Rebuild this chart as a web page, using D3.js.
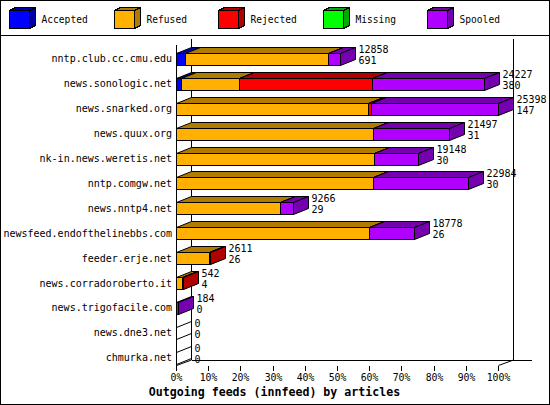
<!DOCTYPE html>
<html>
<head>
<meta charset="utf-8">
<script src="https://cdn.jsdelivr.net/npm/d3@7"></script>
<style>
  body { margin: 0; background: #fff; }
  text { font-family: "DejaVu Sans Mono", monospace; fill: #000; }
</style>
</head>
<body>
<div id="img"></div>
<script>
const hosts = ["nntp.club.cc.cmu.edu", "news.sonologic.net", "news.snarked.org", "news.quux.org",
  "nk-in.news.weretis.net", "nntp.comgw.net", "news.nntp4.net", "newsfeed.endofthelinebbs.com",
  "feeder.erje.net", "news.corradoroberto.it", "news.trigofacile.com", "news.dne3.net", "chmurka.net"];

// percentages of offered articles
const accepted = [2.8, 1.5, 0, 0, 0, 0, 0, 0, 0, 0, 0, 0, 0];
const refused  = [44.4, 18.2, 59.7, 61.3, 61.6, 61.2, 32.3, 60.0, 10.3, 1.8, 0, 0, 0];
const rejected = [0, 41.3, 0.8, 0, 0, 0, 0, 0, 0.2, 0.3, 0, 0, 0];
const missing  = [0, 0, 0, 0, 0, 0, 0, 0, 0, 0, 0, 0, 0];
const spooled  = [3.8, 34.5, 39.4, 23.5, 13.7, 29.4, 4.0, 13.9, 0, 0, 0.6, 0, 0];

const articles = [12858, 24227, 25398, 21497, 19148, 22984, 9266, 18778, 2611, 542, 184, 0, 0];
const volume   = [691, 380, 147, 31, 30, 30, 29, 26, 26, 4, 0, 0, 0];

const seriesNames = ["Accepted", "Refused", "Rejected", "Missing", "Spooled"];
const seriesData = [accepted, refused, rejected, missing, spooled];
const ticks = [0, 10, 20, 30, 40, 50, 60, 70, 80, 90, 100];

const front = ["#0000ff", "#ffb000", "#ff0000", "#00ff00", "#b000ff"];
const dark  = ["#0000a8", "#b07c00", "#b00000", "#00a800", "#7400b0"];

const W = 550, H = 405;
const DX = 15, DY = 6;

const svg = d3.select("#img").append("svg")
    .attr("width", W)
    .attr("height", H)
    .attr("shape-rendering", "crispEdges");

// frame
svg.append("rect").attr("x", 0.5).attr("y", 0.5).attr("width", W - 1).attr("height", H - 1)
    .attr("fill", "#fff").attr("stroke", "#000");
svg.append("line").attr("x1", 0).attr("x2", W).attr("y1", 35.5).attr("y2", 35.5).attr("stroke", "#000");

function poly(g, pts, fill) {
    g.append("polygon")
        .attr("points", pts.map(p => p.join(",")).join(" "))
        .attr("fill", fill)
        .attr("stroke", "#000")
        .attr("stroke-linejoin", "miter");
}

// legend
const legend = svg.append("g");
seriesNames.forEach(function(name, i) {
    const x0 = Math.round(9 + i * 104.6) + 0.5;
    const g = legend.append("g");
    poly(g, [[x0, 10.5], [x0 + 6, 7.5], [x0 + 26, 7.5], [x0 + 20, 10.5]], dark[i]);
    poly(g, [[x0 + 20, 10.5], [x0 + 26, 7.5], [x0 + 26, 25.5], [x0 + 20, 28.5]], dark[i]);
    poly(g, [[x0, 10.5], [x0 + 20, 10.5], [x0 + 20, 28.5], [x0, 28.5]], front[i]);
    g.append("text")
        .attr("x", x0 + 32)
        .attr("y", 20)
        .attr("dy", "0.35em")
        .style("font-size", "9.6px")
        .text(name);
});

// scales
const x = d3.scaleLinear().domain([0, 100]).range([176, 498]);
const y = d3.scaleBand().domain(hosts).range([46.5, 370.2]);
const px = v => Math.round(x(v)) + 0.5;

// back walls and axes
const axes = svg.append("g").attr("stroke", "#000").attr("fill", "none");
const yFront = 365.5, yBack = yFront - DY + 0.5;
axes.append("line").attr("x1", px(0) + DX).attr("x2", px(0) + DX).attr("y1", 38.5).attr("y2", yBack);
axes.append("line").attr("x1", px(100) + DX).attr("x2", px(100) + DX).attr("y1", 38.5).attr("y2", yBack);
axes.append("line").attr("x1", px(0) + DX).attr("x2", 532).attr("y1", yBack).attr("y2", yBack);
axes.append("line").attr("x1", px(0)).attr("x2", px(0)).attr("y1", 45).attr("y2", yFront);
[0, 100].forEach(v => {
    axes.append("line").attr("x1", px(v)).attr("y1", yFront).attr("x2", px(v) + DX).attr("y2", yBack)
        .attr("shape-rendering", "auto");
});
ticks.forEach(v => {
    axes.append("line").attr("x1", px(v)).attr("x2", px(v)).attr("y1", yFront).attr("y2", 370.5);
});
svg.append("g").selectAll("text").data(ticks).enter().append("text")
    .attr("x", d => px(d))
    .attr("y", 378)
    .attr("dy", "0.35em")
    .attr("text-anchor", "middle")
    .style("font-size", "9.8px")
    .text(d => d + "%");

svg.append("text")
    .attr("x", 274.5)
    .attr("y", 391.5)
    .attr("dy", "0.35em")
    .attr("text-anchor", "middle")
    .style("font-size", "11.6px")
    .style("font-weight", "bold")
    .text("Outgoing feeds (innfeed) by articles");

// category labels
svg.append("g").selectAll("text").data(hosts).enter().append("text")
    .attr("x", 172)
    .attr("y", d => y(d) + y.bandwidth() / 2)
    .attr("dy", "0.35em")
    .attr("text-anchor", "end")
    .style("font-size", "10px")
    .text(d => d);

// 3d bars
const bars = svg.append("g").attr("shape-rendering", "auto");
hosts.forEach(function(h, r) {
    const cy = y(h) + y.bandwidth() / 2;
    const yt = Math.round(cy - 6) + 0.5, yb = yt + 12;
    let acc = 0;
    let drawn = 0;
    seriesData.forEach(function(s, k) {
        const v = s[r];
        if (v <= 0) return;
        const x0 = px(acc), x1 = px(acc + v);
        acc += v;
        drawn++;
        const g = bars.append("g");
        poly(g, [[x0, yt], [x0 + DX, yt - DY], [x1 + DX, yt - DY], [x1, yt]], dark[k]);
        poly(g, [[x1, yt], [x1 + DX, yt - DY], [x1 + DX, yb - DY], [x1, yb]], dark[k]);
        poly(g, [[x0, yt], [x1, yt], [x1, yb], [x0, yb]], front[k]);
    });
    if (!drawn) {
        const x0 = px(0);
        const g = bars.append("g");
        poly(g, [[x0, yt], [x0 + DX, yt - DY], [x0 + DX, yb - DY], [x0, yb]], "none");
    }
    const xe = px(acc) + DX + 3;
    const t = svg.append("text")
        .attr("x", xe)
        .attr("y", cy - 9.5)
        .style("font-size", "10px");
    t.append("tspan").attr("x", xe).attr("dy", "0.35em").text(articles[r]);
    t.append("tspan").attr("x", xe).attr("dy", "1.1em").text(volume[r]);
});
</script>
</body>
</html>
